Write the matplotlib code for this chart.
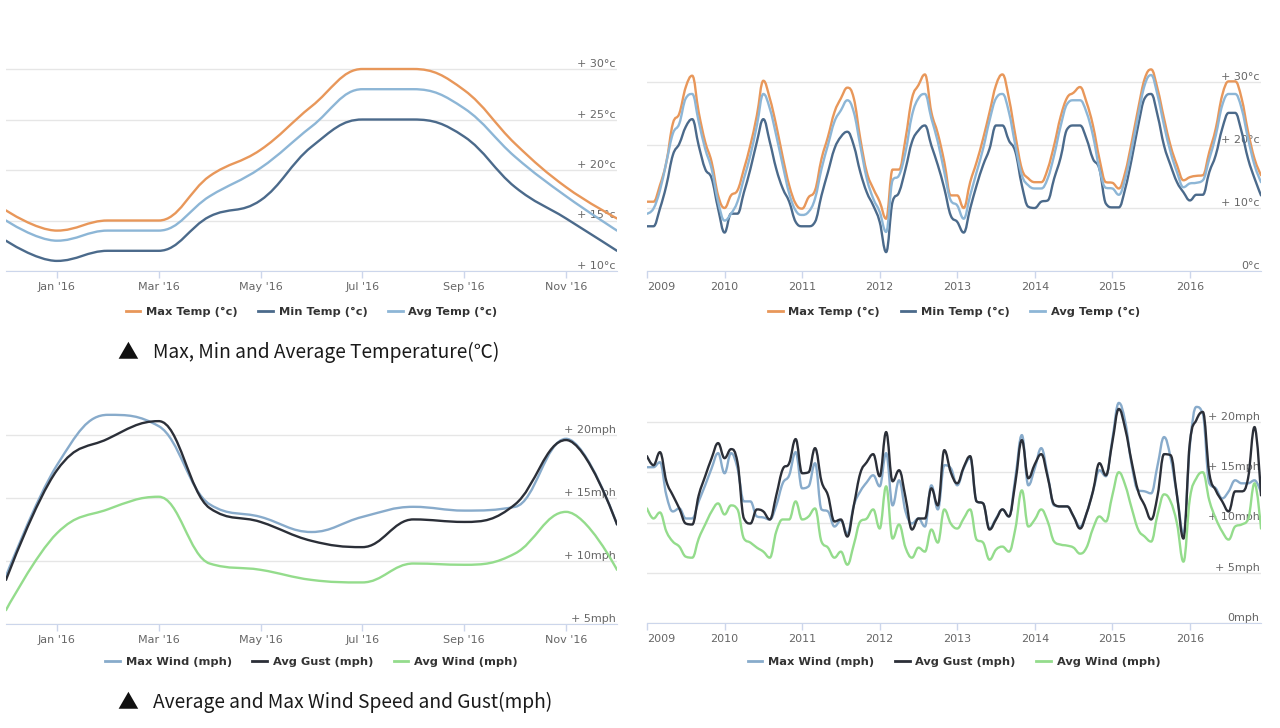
import numpy as np
import matplotlib
matplotlib.use("Agg")
import matplotlib.pyplot as plt
from matplotlib.path import Path
from matplotlib.patches import PathPatch
from matplotlib.lines import Line2D

# ---- data: 2016 monthly (Dec '15 .. Dec '16) ----
months_16 = np.arange(13)
month_ticks_16 = [1, 3, 5, 7, 9, 11]
month_labels_16 = ["Jan '16", "Mar '16", "May '16", "Jul '16", "Sep '16", "Nov '16"]

max_temp_16 = [16.0, 14.0, 15.0, 15.0, 19.4, 22.0, 26.3, 30.0, 30.0, 27.9, 22.6, 18.3, 15.2]
min_temp_16 = [13.0, 11.0, 12.0, 12.0, 15.4, 17.0, 22.3, 25.0, 25.0, 23.3, 18.3, 15.2, 12.0]
avg_temp_16 = [15.0, 13.0, 14.0, 14.0, 17.4, 20.2, 24.3, 28.0, 28.0, 26.1, 21.3, 17.4, 14.0]

max_wind_16 = [8.8, 17.6, 21.6, 20.7, 14.5, 13.5, 12.3, 13.5, 14.3, 14.0, 14.3, 19.7, 12.9]
avg_gust_16 = [8.5, 17.2, 19.7, 21.1, 14.2, 13.1, 11.6, 11.1, 13.3, 13.1, 14.5, 19.6, 12.9]
avg_wind_16 = [6.1, 12.2, 14.1, 15.1, 9.8, 9.3, 8.5, 8.3, 9.8, 9.7, 10.6, 13.9, 9.3]

# ---- data: monthly Jan 2009 .. Dec 2016 ----
months_all = np.arange(96)
year_ticks = [0, 12, 24, 36, 48, 60, 72, 84]
year_labels = ["2009", "2010", "2011", "2012", "2013", "2014", "2015", "2016"]

max_temp = [11.0, 11.0, 13.6, 17.3, 23.4, 25.0, 29.2, 31.0, 25.2, 20.5, 17.3, 12.0,
            10.0, 12.0, 12.8, 16.2, 20.0, 24.7, 30.2, 27.4, 23.1, 18.1, 13.6, 10.7,
            9.9, 11.7, 12.8, 17.8, 21.3, 25.2, 27.4, 29.1, 27.4, 21.0, 15.7, 13.1,
            11.0, 8.3, 16.1, 16.1, 21.0, 27.4, 29.5, 31.2, 25.2, 21.8, 17.3, 12.0,
            12.0, 10.0, 14.1, 17.3, 21.0, 25.2, 29.5, 31.2, 27.4, 21.5, 16.2, 14.7,
            14.1, 14.1, 16.2, 20.0, 24.5, 27.5, 28.3, 29.2, 26.8, 23.1, 17.8, 14.1,
            14.0, 13.1, 15.7, 20.5, 25.8, 30.5, 32.0, 28.9, 24.2, 19.9, 16.8, 14.4,
            14.9, 15.1, 15.2, 18.9, 22.6, 27.9, 30.1, 30.1, 27.4, 22.1, 17.8, 15.2]
min_temp = [7.1, 7.1, 9.9, 13.6, 18.4, 20.2, 22.9, 24.1, 19.9, 16.2, 14.7, 9.9,
            6.1, 9.1, 9.1, 12.5, 16.2, 20.5, 24.1, 20.5, 16.2, 13.1, 11.0, 7.8,
            7.1, 7.1, 7.8, 12.0, 15.7, 19.4, 21.3, 22.1, 19.9, 15.7, 12.5, 10.4,
            7.8, 3.0, 11.0, 12.5, 16.2, 20.5, 22.3, 23.1, 19.9, 16.8, 13.1, 8.8,
            7.8, 6.1, 9.9, 13.6, 16.8, 19.4, 23.1, 23.1, 20.7, 18.9, 13.6, 10.2,
            10.0, 11.0, 11.2, 14.7, 18.0, 22.5, 23.1, 23.1, 21.0, 17.8, 16.2, 10.7,
            10.1, 10.1, 13.1, 17.8, 23.1, 27.4, 28.1, 24.7, 19.9, 16.8, 14.1, 12.5,
            11.2, 12.1, 12.1, 15.7, 18.4, 22.6, 25.1, 25.1, 22.1, 17.8, 14.7, 12.0]
avg_temp = [9.1, 9.9, 12.8, 17.3, 21.8, 23.4, 27.4, 28.1, 23.7, 19.4, 16.2, 11.0,
            8.0, 9.1, 11.0, 14.7, 18.4, 23.1, 28.1, 25.8, 21.5, 16.8, 12.3, 9.6,
            8.9, 9.4, 11.5, 16.2, 20.0, 23.7, 25.5, 27.1, 25.2, 19.9, 14.7, 11.5,
            9.4, 6.2, 14.4, 15.2, 18.9, 24.7, 27.4, 28.1, 24.2, 20.5, 15.7, 11.2,
            10.4, 8.3, 12.0, 15.7, 19.4, 23.9, 27.4, 28.1, 25.2, 19.9, 15.2, 13.6,
            13.1, 13.1, 14.7, 18.4, 23.0, 26.5, 27.1, 27.1, 25.2, 21.5, 16.2, 13.2,
            13.1, 12.1, 14.7, 19.4, 24.7, 29.5, 31.1, 27.9, 23.1, 18.9, 15.7, 13.3,
            13.9, 14.0, 14.4, 17.8, 21.5, 26.3, 28.1, 28.1, 25.8, 21.0, 16.8, 14.1]

max_wind = [15.5, 15.5, 16.0, 12.7, 11.1, 11.4, 10.4, 10.4, 12.1, 13.7, 15.4, 16.9,
            14.9, 16.9, 15.4, 12.1, 12.1, 10.6, 10.5, 10.3, 11.7, 13.9, 14.7, 17.0,
            13.4, 13.6, 15.9, 11.3, 11.1, 9.6, 10.2, 8.9, 11.7, 13.1, 14.0, 14.7,
            13.6, 16.9, 11.7, 14.2, 11.1, 9.9, 10.4, 9.6, 13.7, 11.3, 15.7, 15.4,
            13.7, 15.4, 16.4, 12.1, 11.9, 9.4, 10.4, 11.3, 10.6, 14.5, 18.7, 13.7,
            15.4, 17.4, 14.7, 11.7, 11.6, 11.6, 10.6, 9.6, 10.9, 13.1, 15.2, 14.6,
            18.3, 21.9, 20.0, 15.7, 13.2, 13.1, 12.9, 15.7, 18.5, 16.5, 12.7, 8.9,
            17.7, 21.5, 20.8, 13.9, 13.4, 12.4, 13.1, 14.2, 13.9, 13.9, 14.2, 13.0]
avg_gust = [16.6, 15.7, 17.0, 14.1, 12.7, 11.4, 9.9, 9.8, 12.7, 14.6, 16.4, 17.9,
            16.4, 17.3, 16.0, 10.4, 9.9, 11.3, 11.1, 10.3, 12.7, 15.3, 15.9, 18.3,
            14.9, 15.0, 17.4, 14.1, 12.7, 10.1, 10.3, 8.6, 11.7, 14.9, 16.0, 16.8,
            14.6, 19.0, 14.1, 15.2, 12.5, 9.3, 10.4, 10.4, 13.4, 11.7, 17.2, 15.0,
            13.9, 15.5, 16.6, 12.1, 11.9, 9.3, 10.3, 11.3, 10.6, 14.0, 18.2, 14.4,
            15.8, 16.8, 14.5, 11.8, 11.6, 11.6, 10.6, 9.4, 10.9, 13.1, 15.9, 14.7,
            18.0, 21.3, 19.3, 16.0, 13.1, 11.7, 10.3, 12.7, 16.8, 16.7, 12.7, 8.4,
            18.0, 20.2, 21.0, 14.9, 13.2, 12.1, 11.1, 13.1, 13.1, 14.4, 19.5, 12.7]
avg_wind = [11.4, 10.4, 11.0, 9.1, 8.1, 7.6, 6.6, 6.5, 8.4, 9.8, 11.1, 11.9,
            10.8, 11.7, 11.3, 8.4, 8.0, 7.5, 7.1, 6.5, 9.1, 10.3, 10.3, 12.1,
            10.3, 10.6, 11.4, 8.1, 7.5, 6.5, 7.1, 5.8, 7.8, 10.1, 10.4, 11.3,
            9.4, 13.6, 8.4, 9.8, 7.5, 6.5, 7.5, 7.1, 9.3, 8.0, 11.3, 9.9,
            9.4, 10.4, 11.3, 8.3, 8.0, 6.3, 7.3, 7.6, 7.1, 9.4, 13.2, 9.6,
            10.3, 11.3, 10.1, 8.1, 7.8, 7.7, 7.5, 6.9, 7.5, 9.4, 10.6, 10.1,
            12.7, 15.0, 13.7, 11.4, 9.3, 8.6, 8.1, 10.8, 12.8, 12.1, 9.9, 6.1,
            12.4, 14.4, 15.0, 12.2, 10.4, 9.1, 8.3, 9.6, 9.8, 10.3, 13.9, 9.4]

temp_names = ["Max Temp (°c)", "Min Temp (°c)", "Avg Temp (°c)"]
wind_names = ["Max Wind (mph)", "Avg Gust (mph)", "Avg Wind (mph)"]
temp_colors = ["#e8975a", "#4b6a8b", "#8db6d6"]
wind_colors = ["#88abcb", "#2b2f38", "#94dc8c"]

W, H = 1280, 728
fig = plt.figure(figsize=(W / 100, H / 100), dpi=100)
fig.patch.set_facecolor("white")
cjk = ["Noto Sans CJK SC", "DejaVu Sans"]


def spline_path(x, y):
    # highcharts-style spline: cubic bezier with smoothing 1.5
    n = len(x)
    lc, rc = [], []
    for i in range(n):
        px, py = x[i], y[i]
        lcx, lcy, rcx, rcy = px, py, px, py
        if 0 < i < n - 1:
            lx, ly, nx, ny = x[i - 1], y[i - 1], x[i + 1], y[i + 1]
            lcx = (1.5 * px + lx) / 2.5
            lcy = (1.5 * py + ly) / 2.5
            rcx = (1.5 * px + nx) / 2.5
            rcy = (1.5 * py + ny) / 2.5
            corr = (rcy - lcy) * (rcx - px) / (rcx - lcx) + py - rcy
            lcy += corr
            rcy += corr
            if lcy > ly and lcy > py:
                lcy = max(ly, py)
                rcy = 2 * py - lcy
            elif lcy < ly and lcy < py:
                lcy = min(ly, py)
                rcy = 2 * py - lcy
            if rcy > ny and rcy > py:
                rcy = max(ny, py)
                lcy = 2 * py - rcy
            elif rcy < ny and rcy < py:
                rcy = min(ny, py)
                lcy = 2 * py - rcy
        lc.append((lcx, lcy))
        rc.append((rcx, rcy))
    verts = [(x[0], y[0])]
    codes = [Path.MOVETO]
    for i in range(1, n):
        verts += [rc[i - 1], lc[i], (x[i], y[i])]
        codes += [Path.CURVE4] * 3
    return Path(verts, codes)


def panel(x0, x1, ybot, px_per_unit, ylim, x, series, colors, names,
          xticks, xlabels, yticks, ylabels, legend_y):
    top = ybot - (ylim[1] - ylim[0]) * px_per_unit
    ax = fig.add_axes([x0 / W, 1 - ybot / H, (x1 - x0) / W, (ybot - top) / H])
    for ys, c in zip(series, colors):
        ax.add_patch(PathPatch(spline_path(x, ys), fill=False, edgecolor=c,
                               lw=1.7, joinstyle="round", capstyle="round"))
    ax.set_xlim(x[0], x[-1])
    ax.set_ylim(*ylim)
    for s in ["top", "left", "right"]:
        ax.spines[s].set_visible(False)
    ax.spines["bottom"].set_color("#ccd6eb")
    ax.set_xticks(xticks, xlabels)
    ax.tick_params(axis="x", direction="out", length=5, width=1, color="#ccd6eb",
                   labelcolor="#666666", labelsize=8, pad=3)
    ax.yaxis.tick_right()
    ax.set_yticks(yticks, ylabels)
    ax.tick_params(axis="y", length=0, pad=-1, labelcolor="#666666", labelsize=8)
    for lab in ax.get_yticklabels():
        lab.set_ha("right")
        lab.set_va("bottom")
    ax.grid(axis="y", color="#e6e6e6", lw=1)
    ax.set_axisbelow(True)
    handles = [Line2D([], [], color=c, lw=2) for c in colors]
    ax.legend(handles, names, loc="center", ncol=3, frameon=False,
              bbox_to_anchor=((x0 + x1) / 2 / W, 1 - legend_y / H),
              bbox_transform=fig.transFigure, handlelength=1.3, handletextpad=0.5,
              columnspacing=1.8, labelcolor="#333333",
              prop={"family": "DejaVu Sans", "weight": "bold", "size": 8.2})
    return ax


panel(6, 617, 271, 10.1, (10, 31.5), months_16,
      [max_temp_16, min_temp_16, avg_temp_16], temp_colors, temp_names,
      month_ticks_16, month_labels_16,
      [10, 15, 20, 25, 30], ["+ 10°c", "+ 15°c", "+ 20°c", "+ 25°c", "+ 30°c"], 312)

ax_tr = panel(647, 1261, 271, 6.3, (0, 33), months_all,
              [max_temp, min_temp, avg_temp], temp_colors, temp_names,
              year_ticks, year_labels,
              [0, 10, 20, 30], ["0°c", "+ 10°c", "+ 20°c", "+ 30°c"], 312)
ax_tr.get_xticklabels()[0].set_ha("left")

panel(6, 617, 624, 12.6, (5, 22.5), months_16,
      [max_wind_16, avg_gust_16, avg_wind_16], wind_colors, wind_names,
      month_ticks_16, month_labels_16,
      [5, 10, 15, 20], ["+ 5mph", "+ 10mph", "+ 15mph", "+ 20mph"], 662)

ax_br = panel(647, 1261, 623, 10.05, (0, 22.5), months_all,
              [max_wind, avg_gust, avg_wind], wind_colors, wind_names,
              year_ticks, year_labels,
              [0, 5, 10, 15, 20], ["0mph", "+ 5mph", "+ 10mph", "+ 15mph", "+ 20mph"], 662)
ax_br.get_xticklabels()[0].set_ha("left")

for y, caption in [(352, "Max, Min and Average Temperature(℃)"),
                   (702, "Average and Max Wind Speed and Gust(mph)")]:
    fig.text(128 / W, 1 - y / H, "▲", ha="center", va="center", fontsize=15,
             family=cjk, color="#111111")
    fig.text(153 / W, 1 - y / H, caption, ha="left", va="center", fontsize=13.8,
             family=cjk, color="#1a1a1a")

fig.savefig("out.png", dpi=100, facecolor="white")
